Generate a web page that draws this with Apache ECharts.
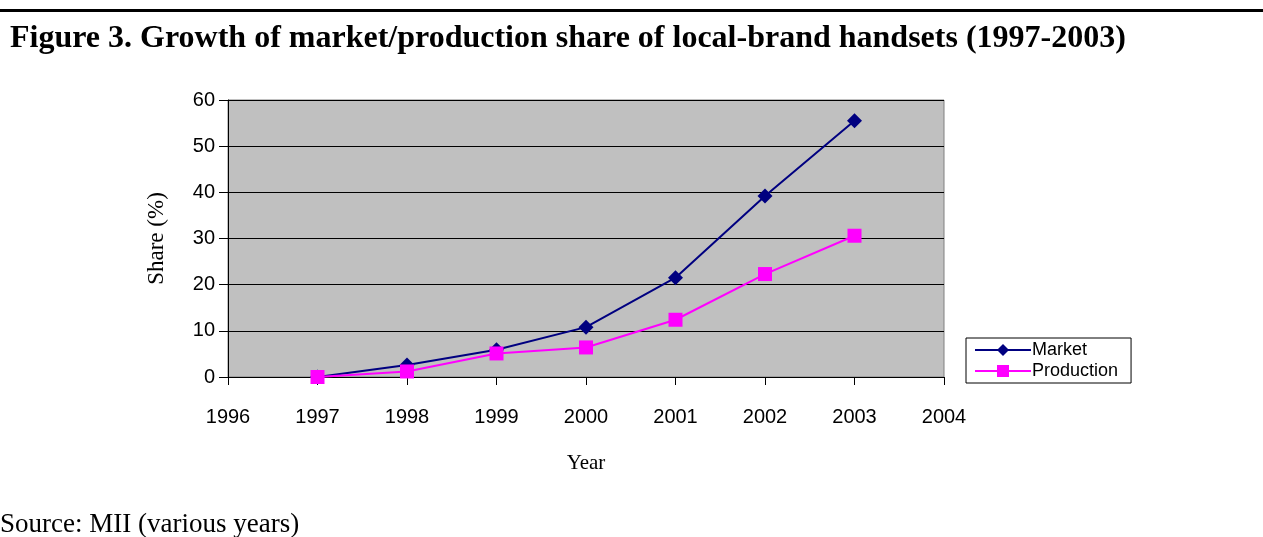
<!DOCTYPE html>
<html>
<head>
<meta charset="utf-8">
<script src="https://cdn.jsdelivr.net/npm/echarts@6/dist/echarts.min.js"></script>
<style>
  html, body { margin: 0; padding: 0; background: #fff; }
  #chart { width: 1263px; height: 537px; }
</style>
</head>
<body>
<div id="chart"></div>
<script>
// values
const years = [1997, 1998, 1999, 2000, 2001, 2002, 2003];
const marketShare = [0, 2.6, 5.9, 10.8, 21.5, 39.2, 55.5];
const productionShare = [0, 1.2, 5.1, 6.4, 12.4, 22.3, 30.6];

const toPairs = (xs, ys) => xs.map((x, i) => [x, ys[i]]);

let myChart = echarts.init(document.getElementById("chart"));
myChart.setOption({
  animation: false,
  backgroundColor: "#fff",
  title: {
    text: "Figure 3. Growth of market/production share of local-brand handsets (1997-2003)",
    left: 5,
    top: 18,
    textStyle: { fontFamily: "Liberation Serif", fontWeight: "bold", fontSize: 32, color: "#000" },
  },
  graphic: [
    { type: "rect", shape: { x: 0, y: 9, width: 1263, height: 3 }, style: { fill: "#000" } },
    {
      type: "text", left: 0, top: 511,
      style: { text: "Source: MII (various years)", font: "27px 'Liberation Serif'", fill: "#000" },
    },
  ],
  legend: {
    orient: "vertical",
    left: 966,
    top: 338,
    itemWidth: 56,
    itemHeight: 15,
    itemGap: 3,
    padding: [3, 13, 3, 8],
    borderColor: "#000",
    borderWidth: 1,
    backgroundColor: "#fff",
    textStyle: { fontFamily: "Liberation Sans", fontSize: 18, color: "#000", padding: [0, 0, 0, -4] },
    data: ["Market", "Production"],
  },
  grid: {
    left: 228,
    right: 319,
    top: 100,
    bottom: 160,
    show: true,
    backgroundColor: "#c0c0c0",
    borderColor: "#808080",
    borderWidth: 1,
  },
  xAxis: {
    type: "value",
    min: 1996,
    max: 2004,
    interval: 1,
    name: "Year",
    nameLocation: "middle",
    nameGap: 76,
    nameTextStyle: { fontFamily: "Liberation Serif", fontSize: 21, color: "#000" },
    axisLine: { onZero: false, lineStyle: { color: "#000", width: 1 } },
    axisTick: { length: 8, lineStyle: { color: "#000" } },
    axisLabel: {
      margin: 30,
      formatter: (v) => String(v),
      fontFamily: "Liberation Sans",
      fontSize: 20,
      color: "#000",
    },
    splitLine: { show: false },
  },
  yAxis: {
    type: "value",
    min: 0,
    max: 60,
    interval: 10,
    name: "Share (%)",
    nameLocation: "middle",
    nameGap: 60,
    nameTextStyle: { fontFamily: "Liberation Serif", fontSize: 23, color: "#000" },
    axisLine: { show: true, lineStyle: { color: "#000", width: 1 } },
    axisTick: { show: true, length: 9, lineStyle: { color: "#000" } },
    axisLabel: { margin: 13, fontFamily: "Liberation Sans", fontSize: 20, color: "#000" },
    splitLine: { show: true, lineStyle: { color: "#000", width: 1 } },
  },
  series: [
    {
      name: "Market",
      type: "line",
      data: toPairs(years, marketShare),
      symbol: "diamond",
      symbolSize: 15,
      color: "#000080",
      lineStyle: { color: "#000080", width: 2 },
      itemStyle: { color: "#000080" },
      z: 3,
    },
    {
      name: "Production",
      type: "line",
      data: toPairs(years, productionShare),
      symbol: "rect",
      symbolSize: 14,
      color: "#ff00ff",
      lineStyle: { color: "#ff00ff", width: 2 },
      itemStyle: { color: "#ff00ff" },
      z: 4,
    },
  ],
});
</script>
</body>
</html>
